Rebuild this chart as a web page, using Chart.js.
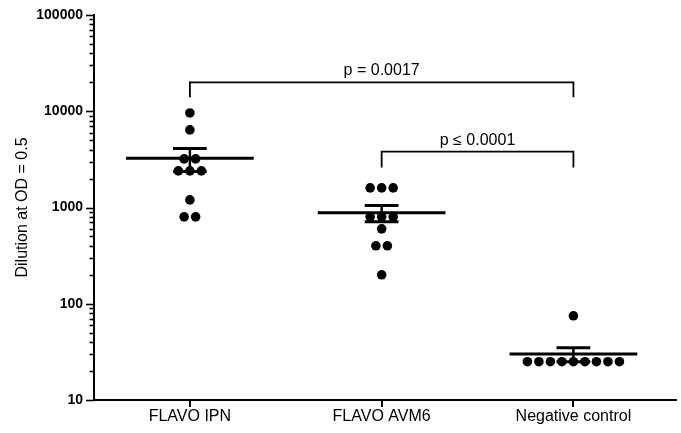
<!DOCTYPE html>
<html lang="en">
<head>
<meta charset="UTF-8">
<title>Dilution at OD = 0.5</title>
<script src="https://cdn.jsdelivr.net/npm/chart.js/dist/chart.umd.min.js"></script>
<style>
  html, body { margin: 0; padding: 0; background: #fff; }
  .chartBox { width: 681px; height: 433px; }
</style>
</head>
<body>
<div class="chartBox"><canvas id="myChart"></canvas></div>
<script>
// data
const categories = ['FLAVO IPN', 'FLAVO AVM6', 'Negative control'];
const ipnValues = [9600, 6400, 3200, 3200, 2400, 2400, 2400, 1200, 800, 800];
const avm6Values = [1600, 1600, 1600, 800, 800, 800, 600, 400, 400, 200];
const negValues = [75, 25, 25, 25, 25, 25, 25, 25, 25, 25];
const groups = [ipnValues, avm6Values, negValues];

const yTickLabels = [10, 100, 1000, 10000, 100000];

// significance brackets
const bracketFrom = [0, 1];
const bracketTo = [2, 2];
const bracketTop = [20000, 3800];
const bracketFoot = [14000, 2600];
const bracketLabels = ['p = 0.0017', 'p \u2264 0.0001'];

const JITTER = 0.06;      // spread for equal values (category units)
const MEAN_HALF = 0.333;  // half width of mean line
const CAP_HALF = 0.088;   // half width of error bar cap

// spread duplicated values side by side
function jitter(values, cx) {
    const counts = {};
    values.forEach(v => counts[v] = (counts[v] || 0) + 1);
    const seen = {};
    return values.map(v => {
        const n = counts[v];
        const i = seen[v] = (seen[v] === undefined ? 0 : seen[v] + 1);
        return { x: cx + (i - (n - 1) / 2) * JITTER, y: v };
    });
}

function mean(a) { return a.reduce((s, v) => s + v, 0) / a.length; }
function sem(a) {
    const m = mean(a);
    const sd = Math.sqrt(a.reduce((s, v) => s + (v - m) * (v - m), 0) / (a.length - 1));
    return sd / Math.sqrt(a.length);
}

const lineStyle = (width) => ({
    type: 'scatter',
    showLine: true,
    borderColor: '#000',
    borderWidth: width,
    pointRadius: 0,
    fill: false,
    tension: 0
});

const datasets = [];

// points
datasets.push({
    type: 'scatter',
    data: groups.flatMap((g, i) => jitter(g, i)),
    pointRadius: 4.8,
    pointBackgroundColor: '#000',
    pointBorderWidth: 0,
    order: 0
});

// mean +/- SEM
groups.forEach((g, i) => {
    const m = mean(g), s = sem(g);
    datasets.push({ ...lineStyle(3), data: [{x: i - MEAN_HALF, y: m}, {x: i + MEAN_HALF, y: m}] });
    datasets.push({ ...lineStyle(2.5), data: [{x: i, y: m - s}, {x: i, y: m + s}] });
    datasets.push({ ...lineStyle(3), data: [{x: i - CAP_HALF, y: m + s}, {x: i + CAP_HALF, y: m + s}] });
    datasets.push({ ...lineStyle(3), data: [{x: i - CAP_HALF, y: m - s}, {x: i + CAP_HALF, y: m - s}] });
});

// brackets
bracketLabels.forEach((lab, k) => {
    datasets.push({ ...lineStyle(1.8), data: [
        {x: bracketFrom[k], y: bracketFoot[k]},
        {x: bracketFrom[k], y: bracketTop[k]},
        {x: bracketTo[k], y: bracketTop[k]},
        {x: bracketTo[k], y: bracketFoot[k]}
    ] });
});

const extras = {
    id: 'extras',
    afterDraw(chart) {
        const { ctx, scales: { x, y } } = chart;
        ctx.save();
        // log ticks on the y axis, long for decades, short in between
        ctx.strokeStyle = '#000';
        ctx.lineWidth = 1.6;
        const ax = y.right;
        for (let e = 1; e <= 5; e++) {
            for (let k = 1; k < 10; k++) {
                const v = k * Math.pow(10, e);
                if (v > 100000) break;
                const py = Math.round(y.getPixelForValue(v)) + 0.5;
                const len = k === 1 ? 8 : 4.5;
                ctx.beginPath();
                ctx.moveTo(ax - len, py);
                ctx.lineTo(ax, py);
                ctx.stroke();
            }
        }
        // p value labels
        ctx.fillStyle = '#000';
        ctx.font = '16px "Liberation Sans", Arial, sans-serif';
        ctx.textAlign = 'center';
        ctx.textBaseline = 'alphabetic';
        bracketLabels.forEach((lab, k) => {
            const cx = x.getPixelForValue((bracketFrom[k] + bracketTo[k]) / 2);
            const cy = y.getPixelForValue(bracketTop[k]);
            ctx.fillText(lab, cx, cy - 7);
        });
        ctx.restore();
    }
};

const ctx = document.getElementById('myChart').getContext('2d');
const myChart = new Chart(ctx, {
    data: { datasets: datasets },
    options: {
        responsive: true,
        maintainAspectRatio: false,
        animation: false,
        layout: { padding: { left: 0, right: 1, top: 15, bottom: 0 } },
        plugins: { legend: { display: false }, tooltip: { enabled: false } },
        scales: {
            x: {
                type: 'linear',
                min: -0.5,
                max: 2.536,
                afterBuildTicks: (scale) => { scale.ticks = categories.map((c, i) => ({ value: i })); },
                afterFit: (scale) => { scale.height = 33; },
                ticks: {
                    callback: (v) => categories[v],
                    color: '#000',
                    font: { family: '"Liberation Sans", Arial, sans-serif', size: 16 },
                    padding: 0,
                    maxRotation: 0,
                    autoSkip: false
                },
                grid: { display: true, drawOnChartArea: false, drawTicks: true, tickLength: 7, color: '#000', lineWidth: 2 },
                border: { display: true, color: '#000', width: 2 }
            },
            y: {
                type: 'logarithmic',
                min: 10,
                max: 100000,
                afterBuildTicks: (scale) => { scale.ticks = yTickLabels.map(v => ({ value: v, major: true })); },
                afterFit: (scale) => { scale.width = 94; },
                ticks: {
                    callback: (v) => String(v),
                    color: '#000',
                    font: { family: '"Liberation Sans", Arial, sans-serif', size: 14, weight: 'bold' },
                    padding: 3
                },
                grid: { display: false },
                border: { display: true, color: '#000', width: 2 },
                title: {
                    display: true,
                    text: 'Dilution at OD = 0.5',
                    color: '#000',
                    font: { family: '"Liberation Sans", Arial, sans-serif', size: 16 },
                    padding: { top: 13, bottom: 0 }
                }
            }
        }
    },
    plugins: [extras]
});
</script>
</body>
</html>
